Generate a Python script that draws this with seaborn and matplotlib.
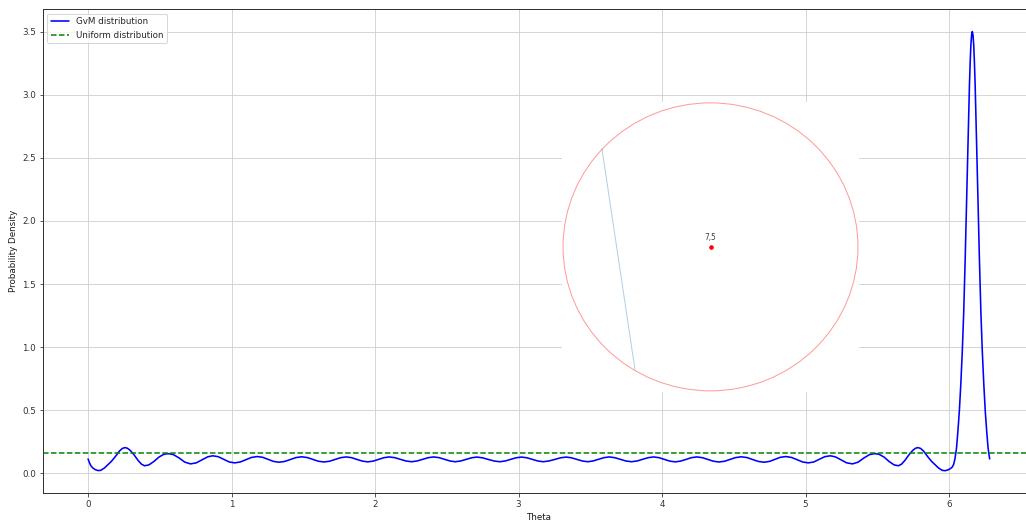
import matplotlib
matplotlib.use("Agg")
import matplotlib.pyplot as plt
from matplotlib.patches import Circle
import seaborn as sns

# GvM density sampled over [0, 2*pi]
theta = [
    0.000, 0.009, 0.019, 0.034, 0.049, 0.069, 0.089, 0.115, 0.139, 0.162,
    0.189, 0.219, 0.239, 0.257, 0.274, 0.294, 0.319, 0.349, 0.372, 0.394,
    0.424, 0.459, 0.494, 0.529, 0.559, 0.594, 0.634, 0.674, 0.714, 0.754,
    0.794, 0.834, 0.869, 0.907, 0.945, 0.984, 1.022, 1.061, 1.100, 1.139,
    1.179, 1.217, 1.254, 1.291, 1.329, 1.369, 1.409, 1.449, 1.489, 1.528,
    1.567, 1.605, 1.644, 1.683, 1.722, 1.760, 1.799, 1.837, 1.874, 1.912,
    1.949, 1.987, 2.024, 2.062, 2.099, 2.138, 2.177, 2.215, 2.254, 2.293,
    2.332, 2.370, 2.409, 2.447, 2.484, 2.522, 2.559, 2.597, 2.634, 2.672,
    2.709, 2.749, 2.789, 2.829, 2.869, 2.907, 2.944, 2.982, 3.020,
    3.059, 3.097, 3.134, 3.172, 3.212, 3.252, 3.292, 3.332, 3.369, 3.407,
    3.444, 3.482, 3.519, 3.557, 3.594, 3.632, 3.671, 3.709, 3.748, 3.787,
    3.826, 3.864, 3.903, 3.942, 3.979, 4.017, 4.054, 4.092, 4.129, 4.167,
    4.204, 4.242, 4.281, 4.319, 4.358, 4.397, 4.436, 4.474, 4.513, 4.552,
    4.592, 4.632, 4.672, 4.712, 4.750, 4.787, 4.824, 4.862, 4.902, 4.941,
    4.980, 5.019, 5.057, 5.096, 5.134, 5.172, 5.207, 5.247, 5.287, 5.327,
    5.367, 5.407, 5.447, 5.482, 5.512, 5.547, 5.582, 5.617, 5.647, 5.669,
    5.692, 5.722, 5.747, 5.767, 5.784, 5.802, 5.822, 5.852, 5.879, 5.902,
    5.926, 5.952, 5.972, 5.992, 6.007, 6.022, 6.032, 6.041, 6.052, 6.062,
    6.072, 6.082, 6.092, 6.102, 6.112, 6.122, 6.127, 6.132, 6.137, 6.142,
    6.147, 6.152, 6.157, 6.162, 6.167, 6.172, 6.177, 6.182, 6.187, 6.192,
    6.197, 6.202, 6.212, 6.222, 6.232, 6.242, 6.252, 6.262, 6.272, 6.283,
]
density = [
    0.115, 0.088, 0.062, 0.043, 0.031, 0.023, 0.025, 0.044, 0.070, 0.095,
    0.132, 0.178, 0.198, 0.205, 0.200, 0.183, 0.150, 0.103, 0.074, 0.061,
    0.068, 0.095, 0.130, 0.152, 0.157, 0.150, 0.123, 0.090, 0.076, 0.084,
    0.108, 0.132, 0.140, 0.133, 0.112, 0.091, 0.084, 0.091, 0.109, 0.127,
    0.134, 0.128, 0.112, 0.096, 0.089, 0.095, 0.110, 0.126, 0.132, 0.126,
    0.111, 0.097, 0.091, 0.097, 0.111, 0.125, 0.131, 0.125, 0.111, 0.098,
    0.092, 0.098, 0.111, 0.125, 0.131, 0.125, 0.112, 0.099, 0.093, 0.099,
    0.112, 0.125, 0.131, 0.125, 0.112, 0.099, 0.093, 0.099, 0.111, 0.124,
    0.130, 0.124, 0.111, 0.099, 0.093, 0.099, 0.111, 0.124, 0.130,
    0.124, 0.111, 0.099, 0.093, 0.099, 0.111, 0.124, 0.130, 0.124, 0.111,
    0.099, 0.093, 0.099, 0.112, 0.125, 0.131, 0.125, 0.112, 0.099, 0.093,
    0.099, 0.112, 0.125, 0.131, 0.125, 0.111, 0.098, 0.092, 0.098, 0.111,
    0.125, 0.131, 0.125, 0.111, 0.097, 0.091, 0.097, 0.111, 0.126, 0.132,
    0.126, 0.110, 0.095, 0.089, 0.096, 0.112, 0.128, 0.134, 0.127, 0.109,
    0.091, 0.084, 0.091, 0.112, 0.133, 0.140, 0.132, 0.108, 0.084, 0.076,
    0.090, 0.123, 0.150, 0.157, 0.152, 0.130, 0.095, 0.068, 0.061, 0.074,
    0.103, 0.150, 0.183, 0.200, 0.205, 0.198, 0.178, 0.132, 0.095, 0.070,
    0.044, 0.025, 0.022, 0.028, 0.037, 0.050, 0.072, 0.115, 0.200, 0.340,
    0.500, 0.710, 0.960, 1.270, 1.680, 2.140, 2.380, 2.620, 2.850, 3.070,
    3.250, 3.390, 3.470, 3.500, 3.470, 3.390, 3.250, 3.070, 2.850, 2.620,
    2.380, 2.140, 1.680, 1.270, 0.960, 0.710, 0.500, 0.340, 0.200, 0.115,
]
uniform_density = 0.159

# inset: circle around a marked point, with one chord
circle_center = (7, 5)
circle_radius = 2.0
chord_x = [5.528, 5.976]
chord_y = [6.362, 3.292]

sns.set_style("whitegrid", {
    "axes.edgecolor": "0.2",
    "grid.color": "0.8",
    "xtick.bottom": True,
    "ytick.left": True,
    "xtick.color": "0.2",
    "ytick.color": "0.2",
    "axes.labelcolor": "0.1",
})
plt.rcParams["font.family"] = ["DejaVu Sans"]
plt.rcParams["font.size"] = 8.8

fig = plt.figure(figsize=(1026 / 72, 523 / 72), dpi=72)
ax = fig.add_axes([0.0419, 0.058, 1.0085 - 0.0419, 0.9822 - 0.058])

sns.lineplot(x=theta, y=density, color="blue", linewidth=1.6,
             label="GvM distribution", sort=False, estimator=None, ax=ax)
ax.axhline(uniform_density, color="green", linestyle="--", linewidth=1.5,
           label="Uniform distribution")

ax.set_xlim(-0.314, 6.597)
ax.set_ylim(-0.152, 3.676)
ax.set_xlabel("Theta", fontsize=8.8)
ax.set_ylabel("Probability Density", fontsize=8.8)
ax.tick_params(length=3.5, width=0.8, labelsize=8.8)
for s in ax.spines.values():
    s.set_linewidth(1.0)
ax.legend(loc="upper left", fontsize=8.8, frameon=True)

# inset panel
ins = fig.add_axes([562 / 1026, (523 - 392) / 523, 297 / 1026, 290 / 523])
ins.set_facecolor("white")
for s in ins.spines.values():
    s.set_visible(False)
ins.set_xticks([])
ins.set_yticks([])
ins.grid(False)
cx, cy = circle_center
ins.add_patch(Circle(circle_center, circle_radius, fill=False,
                     edgecolor="red", alpha=0.4, linewidth=1.0))
ins.plot(chord_x, chord_y, color="#1f77b4", alpha=0.35, linewidth=1.0)
ins.plot([cx], [cy], "o", color="red", markersize=3.5)
ins.annotate(f"{cx},{cy}", (cx, cy), xytext=(0, 5), textcoords="offset points",
             ha="center", va="bottom", fontsize=7.5, color="0.25")
ins.set_xlim(cx - circle_radius * 1.007, cx + circle_radius * 1.007)
ins.set_ylim(cy - circle_radius * 1.008, cy + circle_radius * 1.006)

fig.savefig("out.png", dpi=72)
